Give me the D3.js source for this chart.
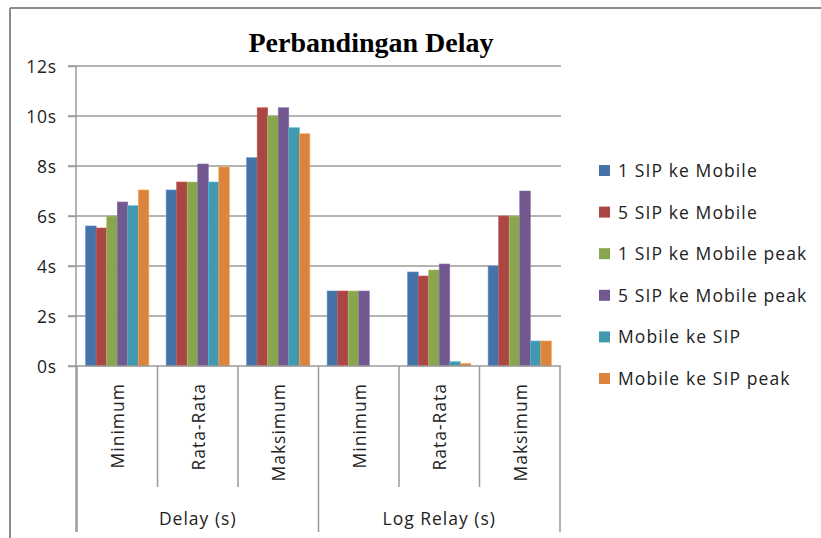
<!DOCTYPE html>
<html>
<head>
<meta charset="utf-8">
<script src="https://cdn.jsdelivr.net/npm/d3@7"></script>
<style>
  html, body { margin: 0; padding: 0; background: #fff; }
  svg { display: block; }
</style>
</head>
<body>
<svg id="chart" width="821" height="538"></svg>
<script>
const groups = ["Delay (s)", "Log Relay (s)"];
const subCategories = ["Minimum", "Rata-Rata", "Maksimum"];
const series = ["1 SIP ke Mobile", "5 SIP ke Mobile", "1 SIP ke Mobile peak", "5 SIP ke Mobile peak", "Mobile ke SIP", "Mobile ke SIP peak"];
const colors = ["#4572A7", "#AA4643", "#89A54E", "#71588F", "#4198AF", "#DB843D"];
const yTicks = [0, 2, 4, 6, 8, 10, 12];
// values per series, in order: Delay Min, Rata, Maks, Log Relay Min, Rata, Maks
const s1 = [5.6, 7.04, 8.33, 3, 3.76, 4];
const s2 = [5.52, 7.36, 10.33, 3, 3.6, 6];
const s3 = [6.0, 7.36, 10.0, 3, 3.84, 6];
const s4 = [6.56, 8.08, 10.33, 3, 4.08, 7];
const s5 = [6.41, 7.36, 9.53, 0, 0.17, 1];
const s6 = [7.04, 7.96, 9.29, 0, 0.1, 1];
const values = [s1, s2, s3, s4, s5, s6];

const svg = d3.select("#chart");
const font = "'Open Sans', 'Noto Sans', sans-serif";
const txt = "#222";

// frame
svg.append("line").attr("x1", 10).attr("x2", 821).attr("y1", 8).attr("y2", 8).attr("stroke", "#8c8c8c").attr("stroke-width", 2);
svg.append("line").attr("x1", 10).attr("x2", 10).attr("y1", 8).attr("y2", 538).attr("stroke", "#8c8c8c").attr("stroke-width", 2);

const cats = [];
groups.forEach((g, gi) => subCategories.forEach((s, si) => cats.push({g, s, key: gi + "-" + si})));

const x = d3.scaleBand().domain(cats.map(c => c.key)).range([77, 560]).padding(0);
const xi = d3.scaleBand().domain(series).range([0, x.bandwidth()]).paddingInner(0).paddingOuter(0.82);
const y = d3.scaleLinear().domain([0, 12]).range([366, 66]);

// gridlines
svg.append("g").selectAll("line").data(yTicks.filter(t => t > 0)).join("line")
  .attr("x1", 68).attr("x2", 561).attr("y1", d => y(d)).attr("y2", d => y(d))
  .attr("stroke", "#9a9a9a").attr("stroke-width", 1.5);

// y axis
const yAxis = d3.axisLeft(y).tickValues(yTicks).tickSize(8).tickFormat(d => d + "s");
const ya = svg.append("g").attr("transform", "translate(76,0)").call(yAxis);
ya.select(".domain").attr("stroke", "#9a9a9a").attr("stroke-width", 1.5).attr("d", "M0,66V532");
ya.selectAll(".tick line").attr("stroke", "#9a9a9a").attr("stroke-width", 1.5);
ya.selectAll(".tick text").attr("font-family", font).attr("font-size", 17.5).attr("letter-spacing", 0.8)
  .attr("fill", txt).attr("x", -19).attr("dy", "0.35em");

// bars
const barG = svg.append("g");
series.forEach((s, si) => {
  barG.selectAll(null).data(cats.map((c, ci) => ({key: c.key, v: values[si][ci]}))).join("rect")
    .attr("x", d => x(d.key) + xi(s))
    .attr("width", xi.bandwidth())
    .attr("y", d => y(d.v))
    .attr("height", d => y(0) - y(d.v))
    .attr("fill", colors[si])
    .attr("stroke", d3.color(colors[si]).brighter(0.6))
    .attr("stroke-width", 0.6);
});

// x axis baseline
svg.append("line").attr("x1", 68).attr("x2", 561).attr("y1", y(0)).attr("y2", y(0)).attr("stroke", "#9a9a9a").attr("stroke-width", 1.5);

// category ticks
const boundaries = cats.map(c => x(c.key)).concat([x.range()[1]]);
svg.append("g").selectAll("line").data(boundaries).join("line")
  .attr("x1", d => d).attr("x2", d => d)
  .attr("y1", y(0))
  .attr("y2", (d, i) => (i % 3 === 0) ? 532 : 487)
  .attr("stroke", "#9a9a9a").attr("stroke-width", 1.5);

// rotated category labels
svg.append("g").selectAll("text").data(cats).join("text")
  .attr("transform", d => `translate(${x(d.key) + x.bandwidth() / 2 + 7},383) rotate(-90)`)
  .attr("text-anchor", "end")
  .attr("font-family", font).attr("font-size", 17.5).attr("letter-spacing", 1)
  .attr("fill", txt)
  .text(d => d.s);

// group labels
svg.append("g").selectAll("text").data(groups).join("text")
  .attr("x", (d, i) => (x(i + "-0") + x(i + "-2") + x.bandwidth()) / 2)
  .attr("y", 525)
  .attr("text-anchor", "middle")
  .attr("font-family", font).attr("font-size", 17.5).attr("letter-spacing", 1)
  .attr("fill", txt)
  .text(d => d);

// title
svg.append("text").attr("x", 371).attr("y", 52).attr("text-anchor", "middle")
  .attr("font-family", "'Liberation Serif', 'Times New Roman', serif").attr("font-weight", "bold").attr("font-size", 28)
  .attr("fill", "#000").text("Perbandingan Delay");

// legend
const lg = svg.append("g").selectAll("g").data(series).join("g")
  .attr("transform", (d, i) => `translate(599,${165 + i * 41.6})`);
lg.append("rect").attr("width", 11).attr("height", 11).attr("fill", (d, i) => colors[i]);
lg.append("text").attr("x", 19).attr("y", 12).attr("font-family", font).attr("font-size", 17.5)
  .attr("letter-spacing", 1.1).attr("fill", txt).text(d => d);
</script>
</body>
</html>
